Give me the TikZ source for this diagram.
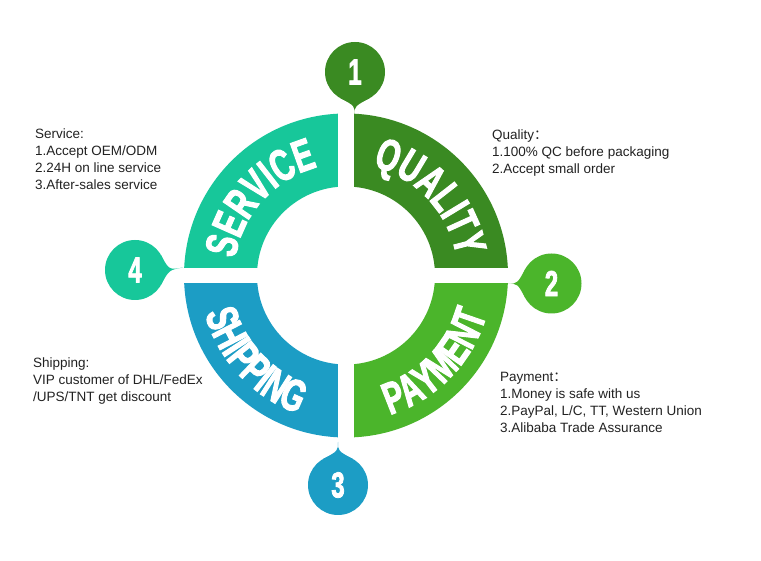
\documentclass[tikz,border=0pt]{standalone}
\usepackage{fontspec}
\setmainfont{Liberation Sans}
\newfontfamily\ringfont[FakeStretch=0.66,FakeBold=2.2]{Liberation Sans}
\newfontfamily\cjk{Noto Sans CJK SC}
\usetikzlibrary{decorations.text,calc}
\definecolor{svc}{HTML}{17C79A}
\definecolor{qua}{HTML}{3A8A22}
\definecolor{pay}{HTML}{4BB52B}
\definecolor{shp}{HTML}{1C9DC5}
\definecolor{txt}{HTML}{222222}
\newcommand{\callout}[5]{%
  \fill[#4] (#1) circle[radius=30];
  \fill[#4] (#2) .. controls ($(#1)+(#3:34)$) .. ($(#1)+(#3+30:30)$) -- (#1)
     -- ($(#1)+(#3-30:30)$) .. controls ($(#1)+(#3:34)$) .. (#2) -- cycle;
  \node[numtxt] (num#5) at (#1) {#5};
}
\newcommand{\ringtext}[4]{% start angle, end angle, radius, text
  \path[decorate, decoration={text along path, text align=center, text color=white,
     text={|\ringfont\bfseries\fontsize{45}{45}\selectfont|#4}}]
     ($(C)+(#1:#3)$) arc[start angle=#1, end angle=#2, radius=#3];
}
\begin{document}
\begin{tikzpicture}[x=1pt,y=1pt,
  info/.style={anchor=north west, inner sep=0pt, align=left,
     font=\fontsize{13.5}{17}\selectfont, text=txt},
  numtxt/.style={text=white, inner sep=0pt, font=\ringfont\bfseries\fontsize{36}{36}\selectfont}]
\useasboundingbox (0,0) rectangle (761,561);
\fill[white] (0,0) rectangle (761,561);
\coordinate (C) at (346,285.5);
\def\Ro{162}\def\Ri{89}
% quadrants
\begin{scope}
  \clip (C) rectangle ++(-200,200);
  \fill[svc,even odd rule] (C) circle[radius=\Ro] (C) circle[radius=\Ri];
\end{scope}
\begin{scope}
  \clip (C) rectangle ++(200,200);
  \fill[qua,even odd rule] (C) circle[radius=\Ro] (C) circle[radius=\Ri];
\end{scope}
\begin{scope}
  \clip (C) rectangle ++(200,-200);
  \fill[pay,even odd rule] (C) circle[radius=\Ro] (C) circle[radius=\Ri];
\end{scope}
\begin{scope}
  \clip (C) rectangle ++(-200,-200);
  \fill[shp,even odd rule] (C) circle[radius=\Ro] (C) circle[radius=\Ri];
\end{scope}
% gaps
\fill[white] ($(C)+(-8,-170)$) rectangle ($(C)+(8,170)$);
\fill[white] ($(C)+(-170,-7.5)$) rectangle ($(C)+(170,7.5)$);
% ring labels
\ringtext{183}{93}{112}{SERVICE}
\ringtext{88}{-2}{112}{QUALITY}
\ringtext{178}{268}{146}{SHIPPING}
\ringtext{272}{360}{146}{PAYMENT}
% callouts
\coordinate (c1) at (355,489);   \coordinate (t1) at (354,447);
\coordinate (c2) at (551.5,277.5); \coordinate (t2) at (508,277);
\coordinate (c3) at (338,76);    \coordinate (t3) at (338,119);
\coordinate (c4) at (135,291);   \coordinate (t4) at (183,293.5);
\callout{c1}{t1}{-90}{qua}{1}
\callout{c2}{t2}{180}{pay}{2}
\callout{c3}{t3}{90}{shp}{3}
\callout{c4}{t4}{0}{svc}{4}
% info texts
\node[info] (service) at (35,432.7) {Service:\\1.Accept OEM/ODM\\2.24H on line service\\3.After-sales service};
\node[info] (quality) at (492,431.7) {Quality{\cjk ：}\\1.100\% QC before packaging\\2.Accept small order};
\node[info] (shipping) at (33,203.7) {Shipping:\\VIP customer of DHL/FedEx\\/UPS/TNT get discount};
\node[info] (payment) at (500,188.7) {Payment{\cjk ：}\\1.Money is safe with us\\2.PayPal, L/C, TT, Western Union\\3.Alibaba Trade Assurance};
\end{tikzpicture}
\end{document}
